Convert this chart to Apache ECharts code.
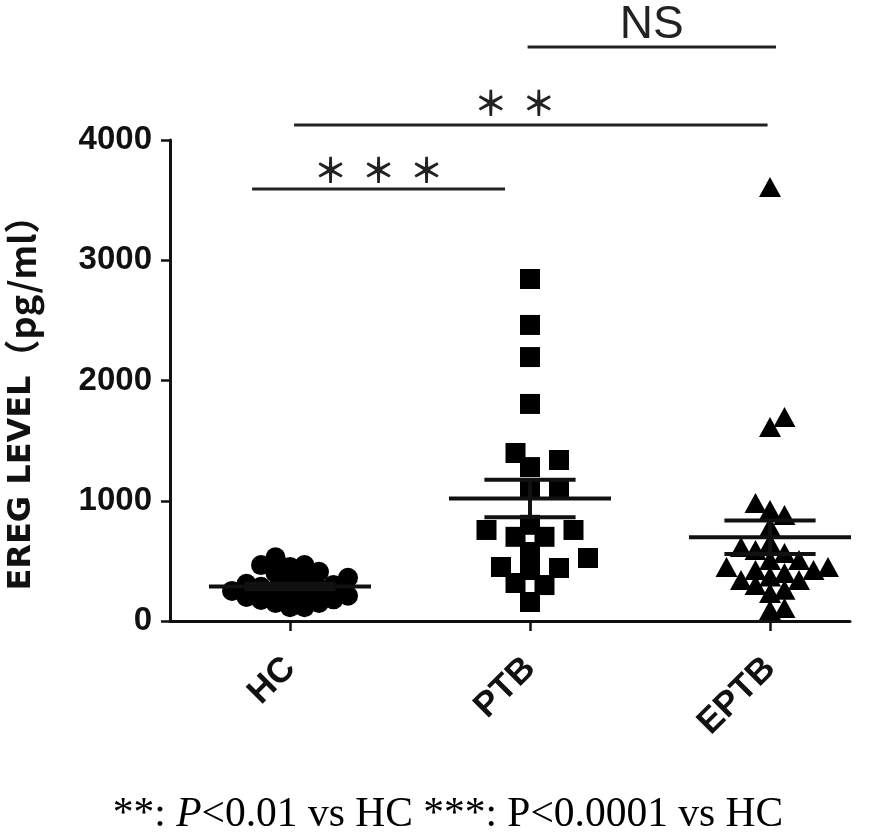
<!DOCTYPE html>
<html><head><meta charset="utf-8">
<script src="https://cdn.jsdelivr.net/npm/echarts@6/dist/echarts.min.js"></script>
<style>html,body{margin:0;padding:0;background:#fff}#c{width:895px;height:839px}</style>
</head><body><div id="c"></div>
<script>
// ---------- data ----------
const categories = ['HC', 'PTB', 'EPTB'];
const hcValues = [530, 410, 175, 450, 465, 400, 465, 285, 150, 115, 115, 150, 200, 250, 300, 350, 220, 270, 330, 180, 230, 310, 260, 360, 210];
const ptbValues = [2844, 2462, 2195, 1805, 1339, 1397, 1280, 1090, 1106, 800, 757, 700, 700, 757, 574, 524, 424, 316, 441, 449, 299, 158];
const eptbValues = [3610, 1614, 1697, 981, 882, 923, 782, 648, 566, 590, 615, 507, 424, 449, 507, 449, 399, 424, 341, 341, 299, 233, 91, 108, 260, 370];
const yTickValues = [0, 1000, 2000, 3000, 4000];
const yTitleMain = 'EREG LEVEL';
const yTitleUnit = '（pg/ml）';
const comparisonLabels = ['***', '**', 'NS'];

// ---------- layout ----------
const GRID = { left: 170, top: 140, width: 680, height: 481 };
const X_MIN = 0.5, X_MAX = 0.5 + 680 / 240;
const STAR_FONT = 'bold 34px "Noto Sans CJK SC"';
const brackets = [
  { x1: 0.842, x2: 1.896, y: 3593, gap: 19, label: comparisonLabels[0], stars: true },
  { x1: 1.017, x2: 2.990, y: 4125, gap: 22, label: comparisonLabels[1], stars: true, shift: -16 },
  { x1: 1.990, x2: 3.025, y: 4773, gap: 22, label: comparisonLabels[2], stars: false, font: 'normal 46px "Liberation Sans"' }
];

const chart = echarts.init(document.getElementById('c'), null, { renderer: 'canvas' });

function meanSem(a) {
  const n = a.length, m = a.reduce((s, v) => s + v, 0) / n;
  const sd = Math.sqrt(a.reduce((s, v) => s + (v - m) * (v - m), 0) / (n - 1));
  return [m, sd / Math.sqrt(n)];
}

function swarm(values, pxY, stepPx, minDist) {
  const order = values.map((v, i) => i).sort((a, b) => values[a] - values[b]);
  const placed = [], offs = new Array(values.length);
  for (const i of order) {
    const y = values[i] * pxY;
    for (let k = 0; k < 200; k++) {
      const o = k === 0 ? 0 : (k % 2 ? 1 : -1) * Math.ceil(k / 2) * stepPx;
      if (placed.every(p => Math.hypot(p.x - o, p.y - y) >= minDist)) {
        placed.push({ x: o, y }); offs[i] = o; break;
      }
    }
  }
  return offs;
}

const baseOption = {
  animation: false,
  backgroundColor: '#fff',
  grid: { left: GRID.left, top: GRID.top, width: GRID.width, height: GRID.height, containLabel: false },
  xAxis: {
    type: 'value', min: X_MIN, max: X_MAX,
    splitLine: { show: false },
    axisLine: { show: true, onZero: false, lineStyle: { color: '#111', width: 3 } },
    axisTick: { show: true, customValues: [1, 2, 3], length: 10, lineStyle: { color: '#111', width: 2.5 } },
    axisLabel: {
      show: true, customValues: [1, 2, 3], rotate: 45, margin: 42,
      formatter: v => categories[Math.round(v) - 1] || '',
      color: '#111', fontSize: 35, fontWeight: 'bold', fontFamily: 'Liberation Sans'
    }
  },
  yAxis: {
    type: 'value', min: yTickValues[0], max: yTickValues[yTickValues.length - 1], interval: 1000,
    splitLine: { show: false },
    axisLine: { show: true, lineStyle: { color: '#111', width: 3 } },
    axisTick: { show: true, length: 9, lineStyle: { color: '#111', width: 2.5 } },
    axisLabel: { margin: 18, color: '#111', fontSize: 33, fontWeight: 'bold', fontFamily: 'Liberation Sans',
      formatter: v => String(v) }
  },
  graphic: [
    { type: 'text', x: 22, y: 394, rotation: Math.PI / 2,
      style: { text: '{a|' + yTitleMain + '}{b|' + yTitleUnit + '}', align: 'center', verticalAlign: 'middle',
        rich: {
          a: { fontFamily: 'DejaVu Sans', fontWeight: 'bold', fontSize: 32, fill: '#111' },
          b: { fontFamily: '"Noto Sans CJK SC"', fontWeight: 'bold', fontSize: 36, fill: '#111' }
        } } },
    { type: 'text', x: 448, y: 815,
      style: { text: '{a|**: }{i|P}{a|<0.01 vs HC ***: P<0.0001 vs HC}', align: 'center', verticalAlign: 'middle',
        rich: {
          a: { fontFamily: 'Liberation Serif', fontSize: 41.5, fill: '#000' },
          i: { fontFamily: 'Liberation Serif', fontSize: 41.5, fontStyle: 'italic', fill: '#000' }
        } } }
  ],
  series: []
};
chart.setOption(baseOption);

const pxX = chart.convertToPixel({ xAxisIndex: 0 }, 2) - chart.convertToPixel({ xAxisIndex: 0 }, 1);
const pxY = chart.convertToPixel({ yAxisIndex: 0 }, 0) - chart.convertToPixel({ yAxisIndex: 0 }, 1000);
const pxPerUnitY = pxY / 1000;

function groupData(values, idx, step, minDist) {
  const offs = swarm(values, pxPerUnitY, step, minDist);
  return values.map((v, i) => [idx + offs[i] / pxX, v]);
}

const groups = [hcValues, ptbValues, eptbValues];
const stats = groups.map((g, i) => { const [m, s] = meanSem(g); return [i + 1, m, s]; });

const series = [
  { type: 'scatter', name: 'HC', data: groupData(hcValues, 1, 14.5, 12.5), symbol: 'circle', symbolSize: 20,
    itemStyle: { color: '#000', opacity: 1 }, z: 2 },
  { type: 'scatter', name: 'PTB', data: groupData(ptbValues, 2, 14.5, 18), symbol: 'rect', symbolSize: 20,
    itemStyle: { color: '#000', opacity: 1 }, z: 2 },
  { type: 'scatter', name: 'EPTB', data: groupData(eptbValues, 3, 14.5, 14), symbol: 'triangle', symbolSize: [22, 20],
    itemStyle: { color: '#000', opacity: 1 }, z: 2 },
  { type: 'custom', name: 'meanSem', data: stats, z: 5, clip: false,
    renderItem: (params, api) => {
      const x = api.value(0), m = api.value(1), s = api.value(2);
      const ml = api.coord([x - 0.3375, m]), mr = api.coord([x + 0.3375, m]);
      const hl = api.coord([x - 0.19, m + s]), hr = api.coord([x + 0.19, m + s]);
      const ll = api.coord([x - 0.19, m - s]), lr = api.coord([x + 0.19, m - s]);
      const c = api.coord([x, m]);
      const st = { stroke: '#111', lineWidth: 4 };
      return { type: 'group', children: [
        { type: 'line', shape: { x1: ml[0], y1: ml[1], x2: mr[0], y2: mr[1] }, style: st },
        { type: 'line', shape: { x1: hl[0], y1: hl[1], x2: hr[0], y2: hr[1] }, style: st },
        { type: 'line', shape: { x1: ll[0], y1: ll[1], x2: lr[0], y2: lr[1] }, style: st },
        { type: 'line', shape: { x1: c[0], y1: hl[1], x2: c[0], y2: ll[1] }, style: st }
      ] };
    } },
  { type: 'custom', name: 'brackets', data: brackets.map((b, i) => [b.x1, b.x2, b.y, i]), z: 5, clip: false,
    renderItem: (params, api) => {
      const b = brackets[api.value(3)];
      const p1 = api.coord([api.value(0), api.value(2)]), p2 = api.coord([api.value(1), api.value(2)]);
      const cx = (p1[0] + p2[0]) / 2 + (b.shift || 0), ty = p1[1] - b.gap;
      const children = [
        { type: 'line', shape: { x1: p1[0], y1: p1[1], x2: p2[0], y2: p2[1] }, style: { stroke: '#222', lineWidth: 3 } }
      ];
      if (b.stars) {
        const chars = b.label.split('');
        chars.forEach((ch, k) => {
          children.push({ type: 'text', style: { text: '＊', x: cx + (k - (chars.length - 1) / 2) * 48, y: ty,
            align: 'center', verticalAlign: 'middle', font: STAR_FONT, fill: '#222' } });
        });
      } else {
        children.push({ type: 'text', style: { text: b.label, x: cx, y: ty, align: 'center', verticalAlign: 'middle',
          font: b.font, fill: '#222' } });
      }
      return { type: 'group', children };
    } }
];
chart.setOption({ series });
</script></body></html>
